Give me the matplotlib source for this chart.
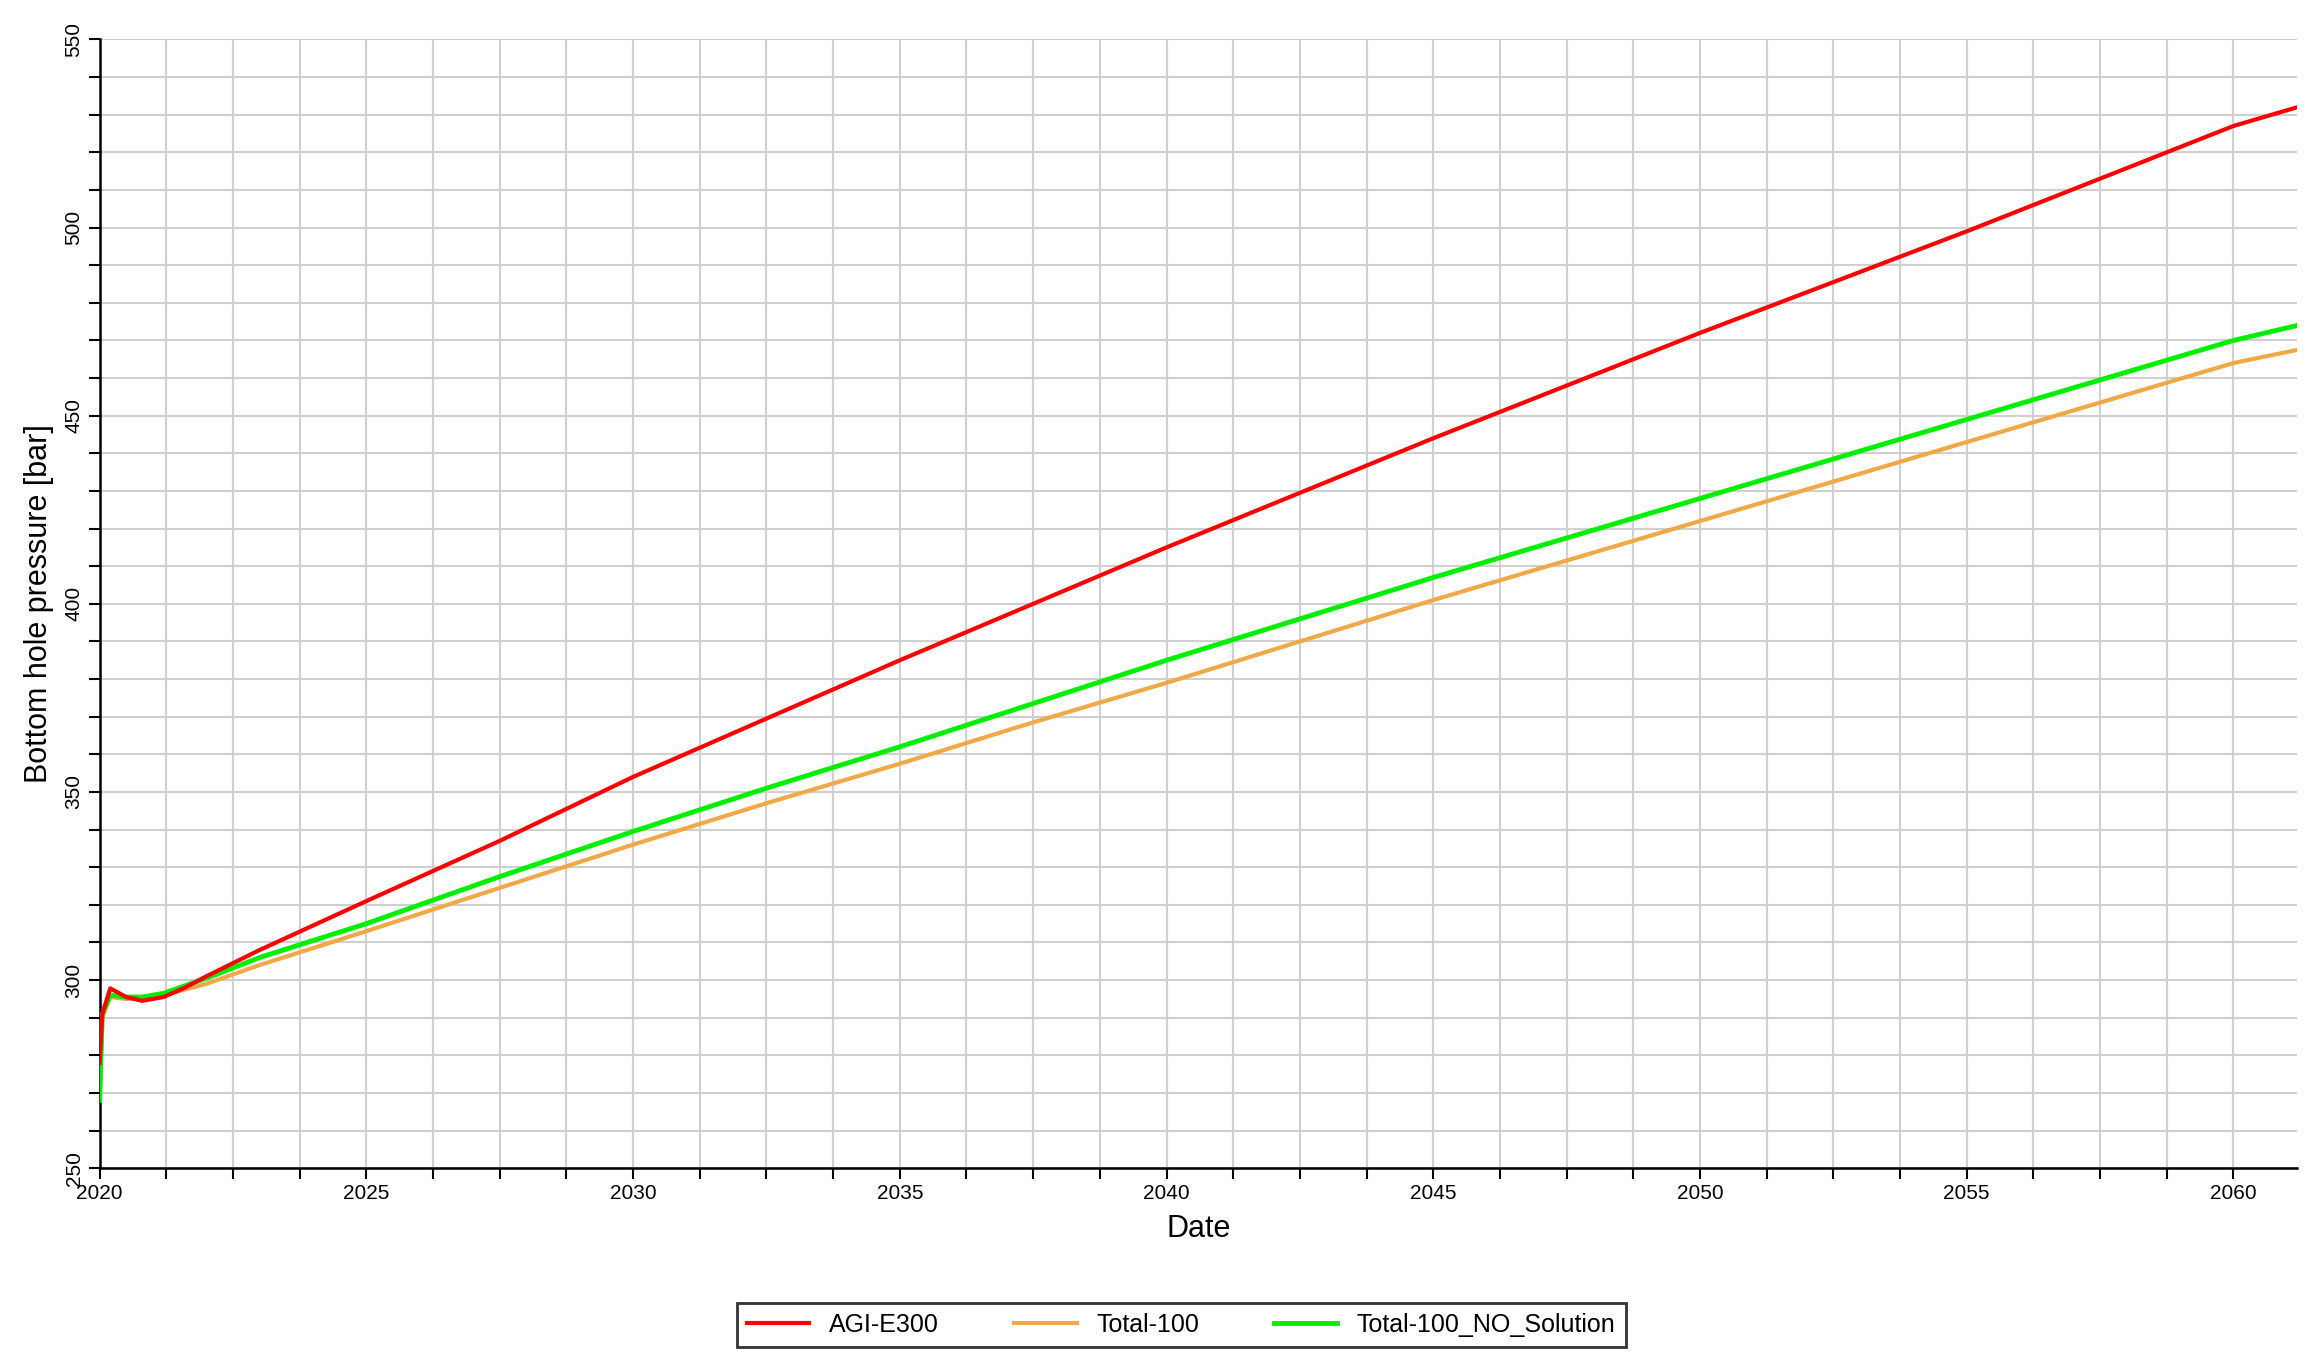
import numpy as np
import matplotlib.pyplot as plt
from matplotlib.ticker import MultipleLocator

plt.rcParams['font.family'] = ['Liberation Sans', 'DejaVu Sans']

# years (decimal) and bottom hole pressure [bar]
years_agi = [2020.0, 2020.05, 2020.2, 2020.5, 2020.8, 2021.2, 2021.6, 2022.0, 2023.0, 2025.0,
             2027.5, 2030.0, 2032.5, 2035.0, 2037.5, 2040.0, 2042.5, 2045.0, 2047.5,
             2050.0, 2052.5, 2055.0, 2057.5, 2060.0, 2061.2]
agi_e300 = [278, 291, 297.8, 295.5, 294.5, 295.5, 298, 301, 308, 321,
            337, 354, 369.5, 385, 400, 415, 429.5, 444, 458,
            472, 485.5, 499, 513, 527, 532]

years_tot = [2020.0, 2020.05, 2020.2, 2020.5, 2020.8, 2021.2, 2021.6, 2022.0, 2023.0, 2025.0,
             2027.5, 2030.0, 2032.5, 2035.0, 2037.5, 2040.0, 2042.5, 2045.0, 2047.5,
             2050.0, 2052.5, 2055.0, 2057.5, 2060.0, 2061.2]
total_100 = [268, 290, 295.5, 295, 295, 296, 297.5, 299, 304, 313,
             324.5, 336, 347, 357.5, 368.5, 379, 390, 401, 411.5,
             422, 432.5, 443, 453.5, 464, 467.5]
total_100_no_sol = [268, 291, 296, 295.5, 295.5, 296.5, 298.5, 300.5, 306, 315,
                    327.5, 339.5, 351, 362, 373.5, 385, 396, 407, 417.5,
                    428, 438.5, 449, 459.5, 470, 474]

fig = plt.figure(figsize=(23.16, 13.6), dpi=100)
ax = fig.add_axes([0.043, 0.141, 0.949, 0.83])

ax.plot(years_agi, agi_e300, color='#ff0000', lw=3, label='AGI-E300', zorder=4)
ax.plot(years_tot, total_100, color='#f0a848', lw=3, label='Total-100', zorder=2)
ax.plot(years_tot, total_100_no_sol, color='#00ee00', lw=3.5, label='Total-100_NO_Solution', zorder=3)

ax.set_xlim(2020, 2061.2)
ax.set_ylim(250, 550)
ax.xaxis.set_major_locator(MultipleLocator(5))
ax.xaxis.set_minor_locator(MultipleLocator(1.25))
ax.yaxis.set_major_locator(MultipleLocator(50))
ax.yaxis.set_minor_locator(MultipleLocator(10))
ax.grid(True, which='both', color='#d0d0d0', lw=1.5)
ax.set_axisbelow(True)
ax.tick_params(which='both', direction='out', length=8, width=1.5, labelsize=15)
ax.tick_params(which='minor', labelleft=False)
for lab in ax.get_yticklabels():
    lab.set_rotation(90)
    lab.set_va('center')
for s in ['top', 'right']:
    ax.spines[s].set_visible(False)
for s in ['left', 'bottom']:
    ax.spines[s].set_linewidth(1.8)

ax.set_xlabel('Date', fontsize=22, labelpad=8)
ax.set_ylabel('Bottom hole pressure [bar]', fontsize=22, labelpad=8)

leg = fig.legend(loc='center', bbox_to_anchor=(0.51, 0.026), ncol=3, fontsize=18,
                 frameon=True, fancybox=False, edgecolor='black', handlelength=2.5,
                 columnspacing=3)
leg.get_frame().set_linewidth(2)

fig.savefig('out.png', dpi=100)
